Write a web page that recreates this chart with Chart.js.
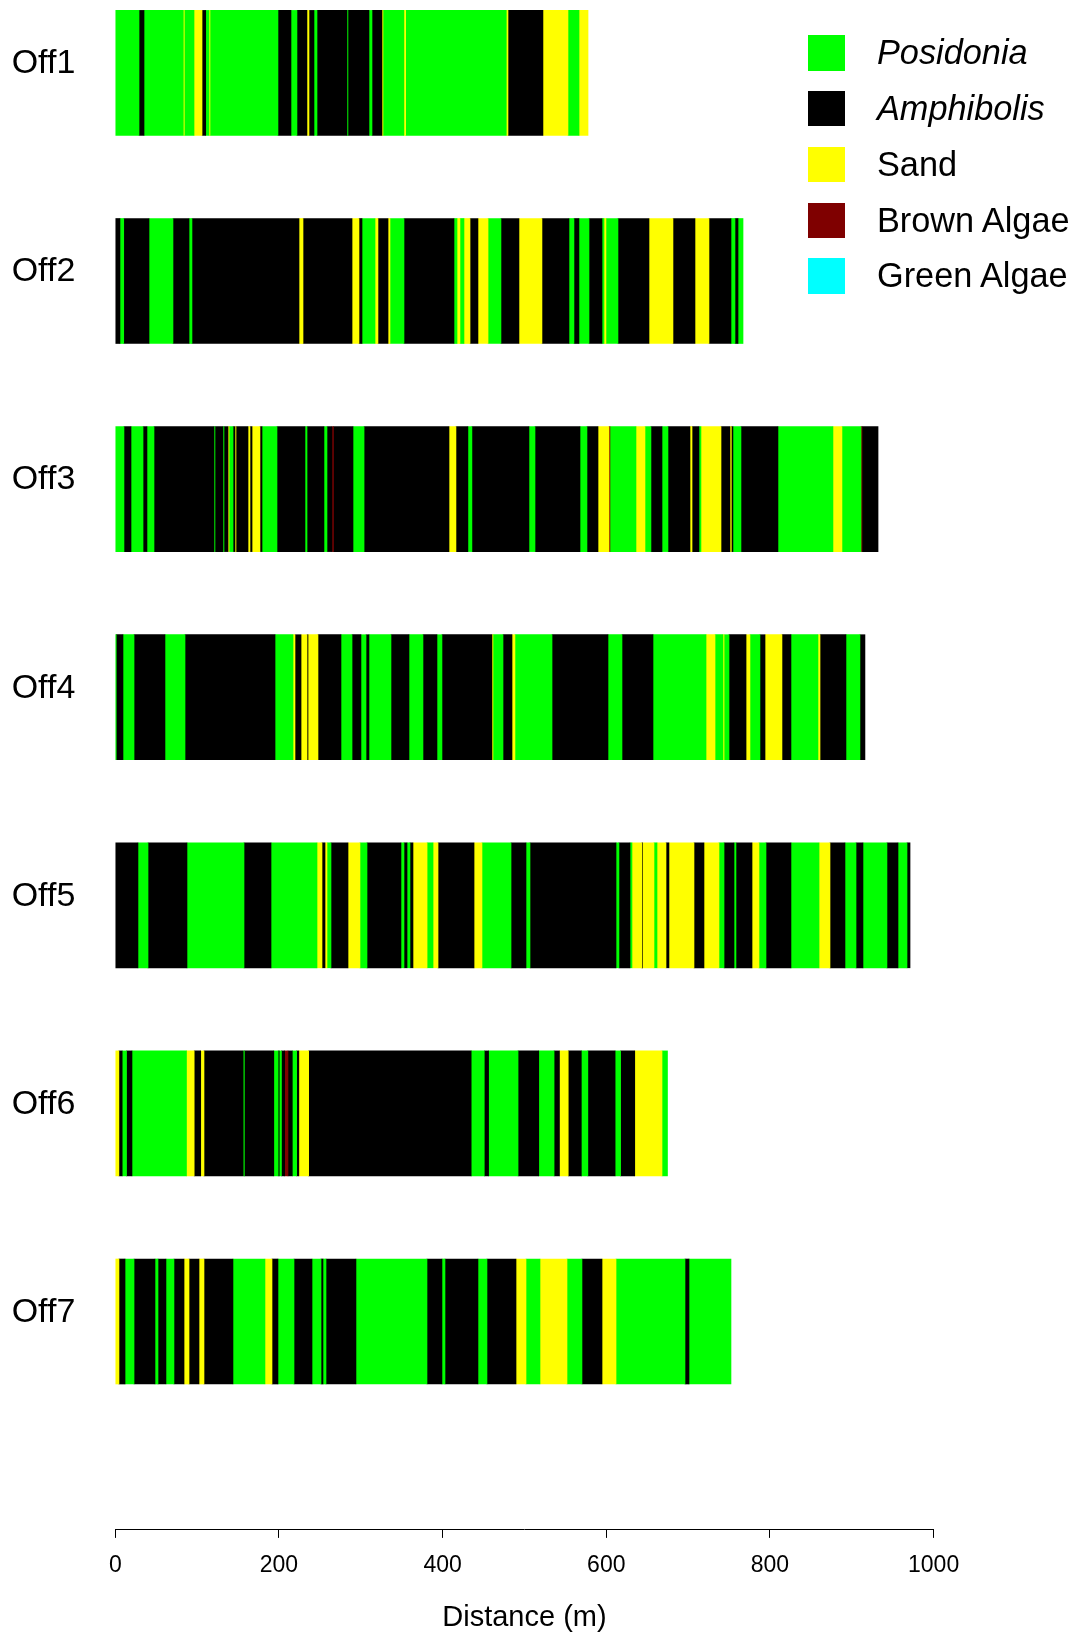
<!DOCTYPE html>
<html>
<head>
<meta charset="utf-8">
<title>Benthic cover along offshore transects</title>
<script src="https://cdn.jsdelivr.net/npm/chart.js@4.4.1/dist/chart.umd.min.js"></script>
<style>
  html, body { margin: 0; padding: 0; background: #ffffff; }
  #wrap { position: relative; width: 1073px; height: 1632px; }
  #chart { position: absolute; left: 0; top: 0; }
  #legend { position: absolute; left: 0; top: 0; font-family: "Liberation Sans", Arial, sans-serif; font-size: 34.3px; color: #000; }
  .item { position: absolute; left: 807.6px; height: 35.4px; display: flex; align-items: center; white-space: nowrap; }
  .swatch { width: 37.4px; height: 35.4px; flex: none; }
  .name { margin-left: 32px; line-height: 35.4px; }
</style>
</head>
<body>
<div id="wrap">
  <canvas id="chart" width="1073" height="1632"></canvas>
  <div id="legend"></div>
</div>
<script>
// Transects, drawn top to bottom
const transects = ['Off1', 'Off2', 'Off3', 'Off4', 'Off5', 'Off6', 'Off7'];

// Cover classes: code, legend name, fill
const coverCodes   = ['P', 'A', 'S', 'B', 'G'];
const coverNames   = ['Posidonia', 'Amphibolis', 'Sand', 'Brown Algae', 'Green Algae'];
const coverColours = ['#00ff00', '#000000', '#ffff00', '#7f0000', '#00ffff'];
const italicNames  = ['Posidonia', 'Amphibolis'];

// Distance axis ticks (m)
const distanceTicks = [0, 200, 400, 600, 800, 1000];

// Segment boundaries along each transect (m) and the cover found between them
const off1Edges = [0, 29.0, 35.1, 83.1, 84.3, 96.2, 106.0, 110.5, 114.5, 115.7, 198.8, 214.7, 222.0, 234.2, 236.7, 242.8, 246.5, 283.1, 284.3, 310.0, 313.7, 325.9, 327.1, 352.7, 354.8, 477.8, 479.9, 522.6, 553.2, 566.7, 577.7];
const off1Cover = ['P','A','P','S','P','S','A','P','S','P','A','P','A','S','A','P','A','P','A','P','A','S','P','S','P','S','A','S','P','S'];

const off2Edges = [0, 5.7, 10.3, 41.2, 70.5, 90.1, 93.7, 224.5, 229.4, 289.3, 297.8, 301.5, 317.4, 321.0, 333.3, 335.7, 352.8, 413.9, 417.6, 421.2, 426.1, 433.5, 443.2, 455.5, 471.3, 493.3, 521.4, 554.4, 560.5, 566.6, 578.9, 594.8, 597.2, 599.6, 614.3, 652.2, 681.5, 708.4, 725.5, 752.4, 757.3, 761.0, 767.1];
const off2Cover = ['A','P','A','P','A','P','A','S','A','S','A','P','S','A','S','P','A','P','S','P','S','A','S','P','A','S','A','P','A','P','A','P','S','P','A','S','A','S','A','P','A','P'];

const off3Edges = [0, 10.6, 19.2, 33.9, 38.7, 47.3, 120.6, 121.8, 131.6, 132.8, 137.8, 139.0, 143.9, 146.3, 147.5, 162.2, 164.6, 167.1, 176.8, 179.3, 197.6, 231.8, 234.3, 255.0, 258.7, 264.8, 266.5, 290.5, 304.0, 407.8, 416.3, 430.9, 435.8, 505.5, 512.9, 567.9, 576.4, 589.9, 603.3, 604.5, 636.3, 647.3, 654.6, 668.1, 675.4, 702.3, 704.8, 713.3, 715.7, 740.2, 751.2, 752.8, 754.8, 764.6, 809.8, 877.0, 888.0, 911.3, 912.5, 932.1];
const off3Cover = ['P','A','P','A','P','A','P','A','P','A','S','P','A','S','A','S','A','S','A','P','A','P','A','P','A','B','A','P','A','S','A','P','A','P','A','P','A','S','B','P','S','P','A','P','A','S','A','P','S','A','S','A','P','A','P','S','P','B','A'];

const off4Edges = [0, 1.2, 9.4, 22.9, 60.7, 85.2, 195.2, 217.2, 219.6, 227.0, 234.3, 235.5, 247.7, 275.8, 289.3, 300.2, 306.4, 310.0, 336.9, 358.9, 376.0, 393.1, 399.2, 460.3, 461.5, 473.8, 484.8, 488.4, 533.7, 602.1, 619.2, 657.1, 721.9, 732.9, 742.6, 743.9, 750.0, 770.8, 775.6, 787.8, 794.0, 814.7, 825.7, 858.7, 861.2, 892.9, 910.0, 916.1];
const off4Cover = ['P','A','P','A','P','A','P','S','A','S','A','S','A','P','A','P','A','P','A','P','A','P','A','S','P','A','S','P','A','P','A','P','S','P','S','P','A','S','P','A','S','A','P','S','A','P','A'];

const off5Edges = [0, 27.7, 40.0, 87.6, 157.3, 190.3, 246.5, 252.6, 256.3, 258.7, 263.6, 284.4, 299.0, 307.6, 349.1, 352.8, 356.5, 360.1, 363.8, 381.0, 388.3, 394.4, 438.4, 448.1, 483.6, 501.9, 506.8, 611.9, 615.5, 629.0, 631.4, 643.6, 644.4, 658.3, 662.0, 673.0, 676.6, 707.2, 719.4, 737.7, 743.9, 756.1, 758.5, 778.1, 786.6, 795.2, 825.7, 860.0, 873.4, 891.7, 905.2, 913.7, 943.0, 956.5, 967.5, 971.2];
const off5Cover = ['A','P','A','P','A','P','S','A','S','P','A','S','P','A','P','A','P','A','S','P','S','A','S','P','A','P','A','P','A','P','S','A','S','P','S','A','S','A','S','P','A','P','A','S','P','A','P','S','A','P','A','P','A','P','A'];

const off6Edges = [0, 4.4, 8.4, 13.7, 20.4, 87.0, 96.4, 104.4, 108.4, 156.3, 157.7, 193.7, 199.0, 200.3, 203.0, 207.0, 211.0, 216.3, 221.6, 224.3, 236.3, 434.9, 450.9, 456.2, 492.2, 517.5, 536.2, 542.8, 553.5, 569.5, 577.5, 610.8, 617.5, 634.8, 668.1, 674.8];
const off6Cover = ['S','A','P','A','P','S','A','S','A','P','A','P','A','P','A','B','A','P','A','S','A','P','A','P','A','P','A','S','A','P','A','P','A','S','P'];

const off7Edges = [0, 4.5, 11.9, 22.9, 48.5, 52.2, 61.9, 71.7, 84.0, 90.1, 102.3, 108.4, 143.8, 182.9, 191.5, 198.8, 218.4, 240.4, 251.4, 253.8, 257.5, 294.1, 380.9, 399.2, 402.9, 443.2, 454.2, 489.7, 501.9, 519.0, 552.0, 570.3, 594.8, 611.9, 696.2, 701.1, 752.4];
const off7Cover = ['S','A','P','A','P','A','P','A','S','A','S','A','P','S','A','P','A','P','A','P','A','P','A','P','A','P','A','S','P','S','P','A','S','P','A','P'];

const FONT = '"Liberation Sans", Arial, sans-serif';

// ---- build Chart.js data: one floating-bar dataset per segment slot ----
const rows = [
  [off1Edges, off1Cover], [off2Edges, off2Cover], [off3Edges, off3Cover],
  [off4Edges, off4Cover], [off5Edges, off5Cover], [off6Edges, off6Cover],
  [off7Edges, off7Cover]
];
const colourOf = {};
coverCodes.forEach((c, i) => { colourOf[c] = coverColours[i]; });

// an empty slot below the last transect keeps the rows evenly spaced down to the axis
const labels = transects.concat(['']);
const maxSegments = Math.max(...rows.map(r => r[1].length));
const datasets = [];
for (let k = 0; k < maxSegments; k++) {
  datasets.push({
    data: rows.map(([edges, cover]) => k < cover.length ? [edges[k], edges[k + 1]] : null).concat([null]),
    backgroundColor: rows.map(([edges, cover]) => k < cover.length ? colourOf[cover[k]] : 'rgba(0,0,0,0)').concat(['rgba(0,0,0,0)']),
    borderWidth: 0,
    barThickness: 125,
    grouped: false,
    clip: false
  });
}

Chart.defaults.font.family = FONT;
Chart.defaults.color = '#000';

new Chart(document.getElementById('chart'), {
  type: 'bar',
  data: { labels, datasets },
  options: {
    indexAxis: 'y',
    responsive: false,
    animation: false,
    devicePixelRatio: 1,
    layout: { padding: { top: 72.9, right: 139.4, left: 0, bottom: 0 } },
    plugins: { legend: { display: false }, tooltip: { enabled: false } },
    scales: {
      x: {
        type: 'linear',
        position: 'bottom',
        min: distanceTicks[0],
        max: distanceTicks[distanceTicks.length - 1],
        afterBuildTicks: s => { s.ticks = distanceTicks.map(v => ({ value: v })); },
        afterFit: s => { s.height = 102.4; },
        ticks: { color: '#000', font: { size: 23 }, padding: 14.3, maxRotation: 0, autoSkip: false,
                 callback: v => String(v) },
        grid: { display: true, drawOnChartArea: false, drawTicks: true, tickLength: 8.3, color: '#000', lineWidth: 1 },
        border: { display: true, color: '#000', width: 1 },
        title: { display: true, text: 'Distance (m)', color: '#000', font: { size: 29, lineHeight: 1 }, padding: { top: 0, bottom: 0 } }
      },
      y: {
        type: 'category',
        offset: false,
        afterFit: s => { s.width = 115.3; },
        grid: { display: false, drawTicks: false },
        border: { display: false },
        ticks: { color: '#000', font: { size: 34 }, padding: 40, labelOffset: -9, autoSkip: false }
      }
    }
  }
});

// ---- legend ----
const legend = document.getElementById('legend');
coverNames.forEach((name, i) => {
  const item = document.createElement('div');
  item.className = 'item';
  item.style.top = (35.4 + i * 55.7) + 'px';
  const sw = document.createElement('div');
  sw.className = 'swatch';
  sw.style.background = coverColours[i];
  const txt = document.createElement('span');
  txt.className = 'name';
  txt.textContent = name;
  if (italicNames.includes(name)) txt.style.fontStyle = 'italic';
  item.appendChild(sw);
  item.appendChild(txt);
  legend.appendChild(item);
});
</script>
</body>
</html>
